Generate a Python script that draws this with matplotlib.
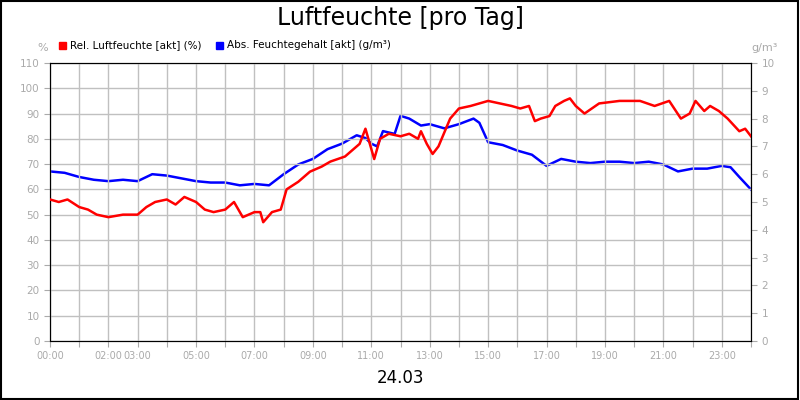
import matplotlib
matplotlib.use("Agg")
import matplotlib.pyplot as plt

rel_t = [0, 0.3, 0.6, 1.0, 1.3, 1.6, 2.0, 2.5, 3.0, 3.3, 3.6, 4.0, 4.3, 4.6, 5.0, 5.3, 5.6, 6.0, 6.3, 6.6, 7.0, 7.2, 7.3, 7.6, 7.9, 8.1, 8.5, 8.9, 9.3, 9.6, 10.1, 10.4, 10.6, 10.8, 11.1, 11.3, 11.6, 12.0, 12.3, 12.6, 12.7, 12.9, 13.1, 13.3, 13.7, 14.0, 14.4, 14.7, 15.0, 15.4, 15.8, 16.1, 16.4, 16.6, 16.8, 17.1, 17.3, 17.6, 17.8, 18.0, 18.3, 18.8, 19.5, 20.2, 20.7, 21.2, 21.6, 21.9, 22.1, 22.4, 22.6, 22.9, 23.2, 23.6, 23.8, 24.0]
rel_v = [56, 55, 56, 53, 52, 50, 49, 50, 50, 53, 55, 56, 54, 57, 55, 52, 51, 52, 55, 49, 51, 51, 47, 51, 52, 60, 63, 67, 69, 71, 73, 76, 78, 84, 72, 80, 82, 81, 82, 80, 83, 78, 74, 77, 88, 92, 93, 94, 95, 94, 93, 92, 93, 87, 88, 89, 93, 95, 96, 93, 90, 94, 95, 95, 93, 95, 88, 90, 95, 91, 93, 91, 88, 83, 84, 81]

abs_t = [0, 0.5, 1.0, 1.5, 2.0, 2.5, 3.0, 3.5, 4.0, 4.5, 5.0, 5.5, 6.0, 6.5, 7.0, 7.5, 8.0, 8.5, 9.0, 9.5, 10.0, 10.5, 10.8, 11.0, 11.2, 11.4, 11.8, 12.0, 12.3, 12.7, 13.0, 13.5, 14.0, 14.5, 14.7, 15.0, 15.5, 16.0, 16.5, 17.0, 17.5, 18.0, 18.5, 19.0, 19.5, 20.0, 20.5, 21.0, 21.5, 22.0, 22.5, 23.0, 23.3, 23.6, 24.0]
abs_v = [6.1, 6.05, 5.9, 5.8, 5.75, 5.8, 5.75, 6.0, 5.95, 5.85, 5.75, 5.7, 5.7, 5.6, 5.65, 5.6, 6.0, 6.35, 6.55, 6.9, 7.1, 7.4, 7.3, 7.1, 7.0, 7.55, 7.45, 8.1, 8.0, 7.75, 7.8, 7.65, 7.8, 8.0, 7.85, 7.15, 7.05, 6.85, 6.7, 6.3, 6.55, 6.45, 6.4, 6.45, 6.45, 6.4, 6.45, 6.35, 6.1, 6.2, 6.2, 6.3, 6.25, 5.9, 5.45]

tick_pos = [0, 2, 3, 5, 7, 9, 11, 13, 15, 17, 19, 21, 23]
tick_lab = ["00:00", "02:00", "03:00", "05:00", "07:00", "09:00", "11:00", "13:00", "15:00", "17:00", "19:00", "21:00", "23:00"]

fig = plt.figure(figsize=(8, 4), dpi=100)
fig.patches.append(plt.Rectangle((0.001, 0.002), 0.997, 0.996, transform=fig.transFigure,
                                 fill=False, edgecolor="black", lw=1.5))
ax = fig.add_axes([50/800, 1-341/400, 701/800, 278/400])
ax2 = ax.twinx()
gc = "#aaaaaa"
ax.plot(rel_t, rel_v, color="#ff0000", lw=1.8, zorder=3)
ax2.plot(abs_t, abs_v, color="#0000ff", lw=1.8)
ax.set_xlim(0, 24)
ax.set_ylim(0, 110)
ax2.set_ylim(0, 10)
ax.set_yticks(range(0, 111, 10))
ax2.set_yticks(range(0, 11))
ax.set_xticks(range(0, 25), minor=False)
ax.set_xticklabels([tick_lab[tick_pos.index(h)] if h in tick_pos else "" for h in range(25)])
ax.grid(True, color="#c0c0c0", lw=1)
for a in (ax, ax2):
    a.tick_params(colors=gc, labelcolor=gc, labelsize=7.5, length=4)
    for s in a.spines.values():
        s.set_color("black")
ax.tick_params(axis="x", labelsize=7)
ax.set_zorder(ax2.get_zorder() + 1)
ax.patch.set_visible(False)
fig.text(0.5, 0.955, "Luftfeuchte [pro Tag]", ha="center", va="center", fontsize=17)
fig.text(0.5, 0.055, "24.03", ha="center", va="center", fontsize=12)
fig.text(43/800, 1-48/400, "%", ha="center", va="center", fontsize=8, color=gc)
fig.text(765/800, 1-48/400, "g/m³", ha="center", va="center", fontsize=8, color=gc)
fig.patches.append(plt.Rectangle((59/800, 1-49/400), 7/800, 7/400, transform=fig.transFigure, color="#ff0000"))
fig.text(70/800, 1-45/400, "Rel. Luftfeuchte [akt] (%)", va="center", fontsize=7.5)
fig.patches.append(plt.Rectangle((216/800, 1-49/400), 7/800, 7/400, transform=fig.transFigure, color="#0000ff"))
fig.text(227/800, 1-45/400, "Abs. Feuchtegehalt [akt] (g/m³)", va="center", fontsize=7.5)
fig.savefig("out.png", dpi=100)
